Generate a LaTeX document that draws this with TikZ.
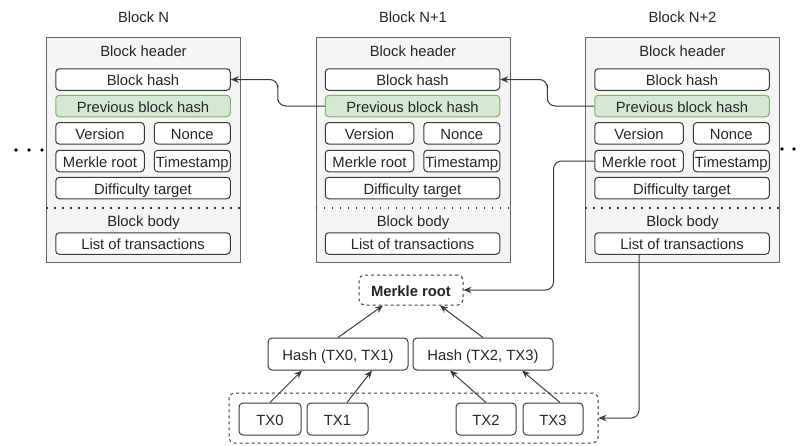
\documentclass[tikz,border=0pt]{standalone}
\usepackage{fontspec}
\setmainfont{Liberation Sans}
\usetikzlibrary{arrows.meta,calc}
\definecolor{txt}{HTML}{262626}
\definecolor{boxline}{HTML}{3A3A3A}
\definecolor{panelfill}{HTML}{F5F5F5}
\definecolor{panelline}{HTML}{666666}
\definecolor{greenfill}{HTML}{D5E8D4}
\definecolor{greenline}{HTML}{82B366}
\newcommand{\fs}{\fontsize{14.8}{17}\selectfont}
\tikzset{
  evenline/.style={text height=12.6pt, text depth=0pt},
  panel/.style={draw=panelline, fill=panelfill, line width=1pt, inner sep=0pt},
  label/.style={font=\fs, text=txt, inner sep=0pt, evenline},
  field/.style={draw=boxline, fill=white, rounded corners=3.5pt, line width=1pt,
    minimum height=21.5pt, inner sep=0pt, font=\fs, text=txt, evenline},
  fullw/.style={field, minimum width=174.5pt},
  leftw/.style={field, minimum width=88.5pt},
  rightw/.style={field, minimum width=76pt},
  green/.style={fullw, draw=greenline, fill=greenfill},
  sepline/.style={line width=1.5pt, draw=boxline, dash pattern=on 1.5pt off 6.5pt},
  dashbox/.style={draw=boxline, line width=1pt, dash pattern=on 3pt off 3pt,
    rounded corners=5pt, inner sep=0pt, font=\fs, text=txt, evenline},
  treebox/.style={field, rounded corners=4pt, minimum height=32pt},
  link/.style={draw=boxline, line width=1pt, rounded corners=8pt,
    -{Stealth[length=8pt,width=6.5pt]}},
  tarrow/.style={draw=boxline, line width=1pt, -{Stealth[length=8pt,width=6.5pt]}},
  dot/.style={circle, fill=black, inner sep=0pt, minimum size=3.6pt}
}
\begin{document}
\begin{tikzpicture}[x=1pt,y=-1pt]
\useasboundingbox (0,0) rectangle (800,445);

% three blocks of the chain
\foreach \b/\L/\t in {a/46.5/Block N, b/316/Block N+1, c/585.5/Block N+2}{
  \node[label] (\b-title) at (\L+97,16) {\t};
  \node[panel, minimum width=194pt, minimum height=225.5pt] (\b-box) at (\L+97,149.75) {};
  \node[label] (\b-head) at (\L+97,50) {Block header};
  \node[fullw] (\b-hash) at (\L+96.5,79.5) {Block hash};
  \node[green] (\b-prev) at (\L+96.5,106) {Previous block hash};
  \node[leftw] (\b-version) at (\L+53.5,133.3) {Version};
  \node[rightw] (\b-nonce) at (\L+145.8,133.3) {Nonce};
  \node[leftw] (\b-merkle) at (\L+53.5,161) {Merkle root};
  \node[rightw] (\b-time) at (\L+145.8,161) {Timestamp};
  \node[fullw] (\b-diff) at (\L+96.5,188) {Difficulty target};
  \draw[sepline] (\b-box.west |- 0,208) -- (\b-box.east |- 0,208);
  \node[label] (\b-body) at (\L+97,220) {Block body};
  \node[fullw] (\b-list) at (\L+96.5,243.5) {List of transactions};
}

% continuation dots
\node[dot] (ld1) at (16,150) {};
\node[dot] (ld2) at (29,150) {};
\node[dot] (ld3) at (42,150) {};
\node[dot] (rd1) at (782,149) {};
\node[dot] (rd2) at (794,149) {};

% hash links between blocks
\draw[link] (b-prev.west) -| ($(a-hash.east)!.5!(b-prev.west)$) |- (a-hash.east);
\draw[link] (c-prev.west) -| ($(b-hash.east)!.5!(c-prev.west)$) |- (b-hash.east);

% Merkle tree
\node[dashbox, minimum width=104pt, minimum height=30pt, font=\fs\bfseries] (mroot) at (411,290) {Merkle root};
\node[treebox, minimum width=140pt] (h01) at (338,354) {Hash (TX0, TX1)};
\node[treebox, minimum width=140pt] (h23) at (483,354) {Hash (TX2, TX3)};
\node[dashbox, minimum width=369pt, minimum height=50pt] (txs) at (413.5,418) {};
\node[treebox, minimum width=62pt] (tx0) at (270,419) {TX0};
\node[treebox, minimum width=61pt] (tx1) at (337.5,419) {TX1};
\node[treebox, minimum width=60pt] (tx2) at (486,419) {TX2};
\node[treebox, minimum width=60pt] (tx3) at (553,419) {TX3};

\draw[tarrow] (tx0.north) -- ([xshift=-36pt]h01.south);
\draw[tarrow] ([xshift=9.5pt]tx1.north) -- ([xshift=34pt]h01.south);
\draw[tarrow] (tx2.north) -- ([xshift=-33pt]h23.south);
\draw[tarrow] ([xshift=7pt]tx3.north) -- ([xshift=39pt]h23.south);
\draw[tarrow] (h01.north) -- ([xshift=-28pt]mroot.south);
\draw[tarrow] (h23.north) -- ([xshift=29pt]mroot.south);

% links from block N+2 to its tree
\draw[link] (c-merkle.west) -| ([xshift=90pt]mroot.east) -- (mroot.east);
\draw[link] ([xshift=-43pt]c-list.south) |- (txs.east);
\end{tikzpicture}
\end{document}
